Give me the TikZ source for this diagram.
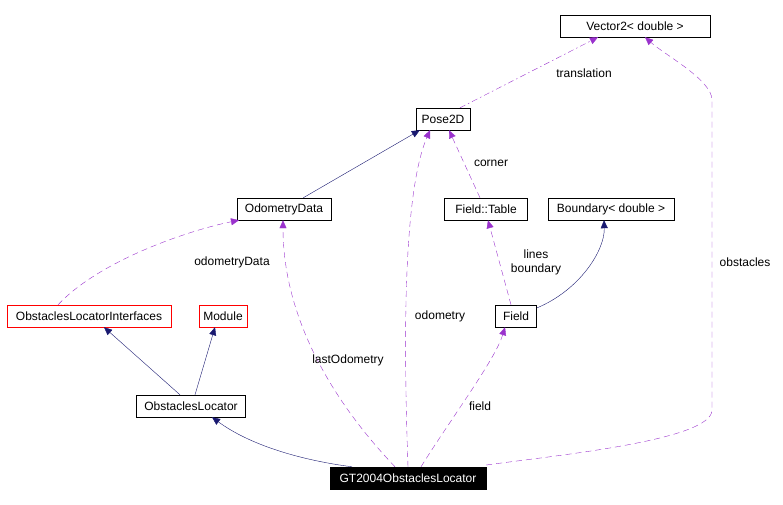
\documentclass[tikz,border=0pt]{standalone}
\usepackage{fontspec}
\setmainfont{Liberation Sans}
\usetikzlibrary{arrows.meta}
\definecolor{nav}{RGB}{25,25,112}
\definecolor{pur}{RGB}{154,50,205}
\begin{document}
\begin{tikzpicture}[x=1pt,y=-1pt,
 box/.style={draw,minimum height=22pt,inner xsep=2pt,inner ysep=0pt,font=\fontsize{12}{14}\selectfont},
 redbox/.style={box,draw=red},
 inh/.style={nav,-{Triangle[length=8pt,width=7pt]}},
 use/.style={pur,dashed,dash pattern=on 6pt off 4pt,-{Triangle[length=8pt,width=7pt]}},
 lbl/.style={font=\fontsize{12}{14}\selectfont,align=center}]
\useasboundingbox (0,0) rectangle (783,505);
\node[box,minimum width=150pt] (v) at (635,26) {Vector2< double >};
\node[box,minimum width=54pt] (p) at (443,119) {Pose2D};
\node[box,minimum width=94pt] (od) at (284,209) {OdometryData};
\node[box,minimum width=83pt] (ft) at (486,209) {Field::Table};
\node[box,minimum width=126pt] (b) at (611,209) {Boundary< double >};
\node[redbox,minimum width=164pt] (oli) at (89,316) {ObstaclesLocatorInterfaces};
\node[redbox,minimum width=48pt] (m) at (223,316) {Module};
\node[box,minimum width=41pt] (f) at (516,316) {Field};
\node[box,minimum width=109pt] (ol) at (191,406) {ObstaclesLocator};
\node[box,fill=black,text=white,minimum width=156pt] (gt) at (408,478) {GT2004ObstaclesLocator};
\coordinate (c1) at (712,410);
\draw[inh] (od.north east) ++(-28,0) -- ([xshift=4pt]p.south west);
\draw[use] (oli.north) ++(-31,0) .. controls (100,260) and (190,230) .. ([xshift=-45pt]od.south);
\draw[inh] ([xshift=-11pt]ol.north) -- ([xshift=15pt]oli.south);
\draw[inh] ([xshift=4pt]ol.north) -- ([xshift=-8pt]m.south);
\draw[inh] ([xshift=-56pt]gt.north) .. controls (300,460) and (250,445) .. ([xshift=21pt]ol.south);
\draw[use] ([xshift=-13pt]gt.north) .. controls (360,430) and (283,340) .. ([xshift=-1pt]od.south);
\draw[use] ([xshift=0pt]gt.north) .. controls (405,380) and (400,200) .. ([xshift=-13pt]p.south);
\draw[use] ([xshift=13pt]gt.north) .. controls (450,420) and (495,360) .. ([xshift=-11pt]f.south);
\draw[use] (gt.east) ++(0,-13) .. controls (560,455) and (712,440) .. (c1) -- (712,100) .. controls (712,80) and (665,55) .. ([xshift=10pt]v.south);
\draw[use] ([xshift=-5pt]f.north) -- ([xshift=2pt]ft.south);
\draw[nav,-{Triangle[length=8pt,width=7pt]}] (f.east) ++(0,-8) .. controls (580,290) and (605,250) .. ([xshift=-7pt]b.south);
\draw[use] ([xshift=-6pt]ft.north) -- ([xshift=6pt]p.south);
\draw[use,dash pattern=on 6pt off 3pt on 1.5pt off 3pt] ([xshift=17pt]p.north) -- ([xshift=-37pt]v.south);
\node[lbl] at (232,262) {odometryData};
\node[lbl] at (348,360) {lastOdometry};
\node[lbl] at (440,316) {odometry};
\node[lbl] at (480,406) {field};
\node[lbl] at (745,262) {obstacles};
\node[lbl,align=center] at (536,262) {lines\\boundary};
\node[lbl] at (491,163) {corner};
\node[lbl] at (584,73) {translation};
\end{tikzpicture}
\end{document}
